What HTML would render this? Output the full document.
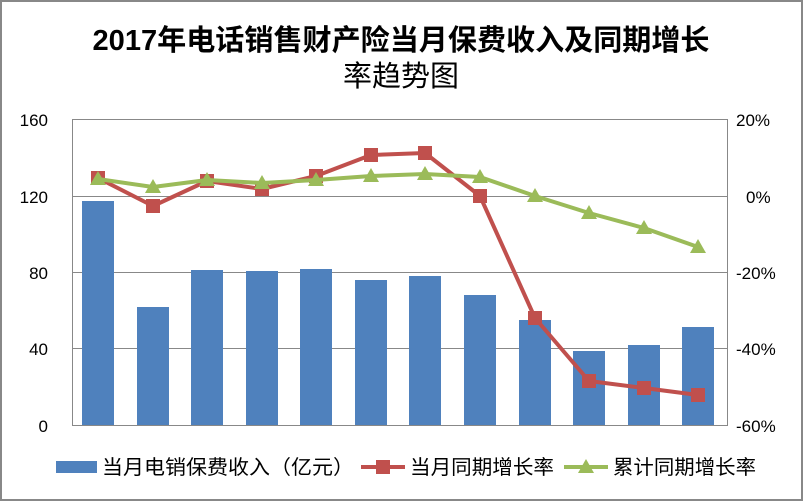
<!DOCTYPE html>
<html><head><meta charset="utf-8"><style>body{margin:0;background:#fff}svg{display:block}</style></head>
<body>
<svg width="803" height="501" xmlns="http://www.w3.org/2000/svg" font-family="Liberation Sans, Noto Sans CJK SC, sans-serif">
<rect x="1" y="1" width="801" height="499" fill="#fff" stroke="#888" stroke-width="2"/>
<text x="401" y="50" font-size="29" font-weight="bold" text-anchor="middle" textLength="617" lengthAdjust="spacingAndGlyphs">2017年电话销售财产险当月保费收入及同期增长</text>
<text x="401" y="86" font-size="29" text-anchor="middle">率趋势图</text>
<g stroke="#888" stroke-width="1">
<line x1="72" y1="119.5" x2="727" y2="119.5"/>
<line x1="72" y1="196.5" x2="727" y2="196.5"/>
<line x1="72" y1="272.5" x2="727" y2="272.5"/>
<line x1="72" y1="348.5" x2="727" y2="348.5"/>
<line x1="72" y1="425.5" x2="727" y2="425.5"/>
<line x1="72.5" y1="119" x2="72.5" y2="426"/>
<line x1="727.5" y1="119" x2="727.5" y2="426"/>
</g>
<g font-size="17" fill="#000">
<text x="48" y="126" text-anchor="end">160</text>
<text x="48" y="203" text-anchor="end">120</text>
<text x="48" y="279" text-anchor="end">80</text>
<text x="48" y="355" text-anchor="end">40</text>
<text x="48" y="432" text-anchor="end">0</text>
<text x="736" y="126">20%</text>
<text x="746" y="203">0%</text>
<text x="736" y="279">-20%</text>
<text x="736" y="355">-40%</text>
<text x="736" y="432">-60%</text>
</g>
<g fill="#4f81bd">
<rect x="82" y="201" width="32" height="224"/>
<rect x="137" y="307" width="32" height="118"/>
<rect x="191" y="270" width="32" height="155"/>
<rect x="246" y="271" width="32" height="154"/>
<rect x="300" y="269" width="32" height="156"/>
<rect x="355" y="280" width="32" height="145"/>
<rect x="409" y="276" width="32" height="149"/>
<rect x="464" y="295" width="32" height="130"/>
<rect x="519" y="320" width="32" height="105"/>
<rect x="573" y="351" width="32" height="74"/>
<rect x="628" y="345" width="32" height="80"/>
<rect x="682" y="327" width="32" height="98"/>
</g>
<polyline fill="none" stroke="#c0504d" stroke-width="4" stroke-linejoin="round" points="98,178 153,206 207,181 262,189 316,176 371,155 425,153 480,196 535,318 589,381 644,388 698,395"/>
<g fill="#c0504d">
<rect x="91" y="171" width="14" height="14"/><rect x="146" y="199" width="14" height="14"/><rect x="200" y="174" width="14" height="14"/><rect x="255" y="182" width="14" height="14"/><rect x="309" y="169" width="14" height="14"/><rect x="364" y="148" width="14" height="14"/><rect x="418" y="146" width="14" height="14"/><rect x="473" y="189" width="14" height="14"/><rect x="528" y="311" width="14" height="14"/><rect x="582" y="374" width="14" height="14"/><rect x="637" y="381" width="14" height="14"/><rect x="691" y="388" width="14" height="14"/>
</g>
<polyline fill="none" stroke="#9bbb59" stroke-width="4" stroke-linejoin="round" points="98,179 153,187 207,180 262,183 316,180 371,176 425,174 480,177 535,196 589,213 644,228 698,247"/>
<g fill="#9bbb59">
<polygon points="98,171 106,185 90,185"/><polygon points="153,179 161,193 145,193"/><polygon points="207,172 215,186 199,186"/><polygon points="262,175 270,189 254,189"/><polygon points="316,172 324,186 308,186"/><polygon points="371,168 379,182 363,182"/><polygon points="425,166 433,180 417,180"/><polygon points="480,169 488,183 472,183"/><polygon points="535,188 543,202 527,202"/><polygon points="589,205 597,219 581,219"/><polygon points="644,220 652,234 636,234"/><polygon points="698,239 706,253 690,253"/>
</g>
<rect x="56" y="461" width="41" height="12" fill="#4f81bd"/>
<text x="102" y="474" font-size="20" textLength="252" lengthAdjust="spacingAndGlyphs">当月电销保费收入（亿元）</text>
<line x1="361" y1="467" x2="405" y2="467" stroke="#c0504d" stroke-width="4"/>
<rect x="376" y="460" width="14" height="14" fill="#c0504d"/>
<text x="410" y="474" font-size="20" textLength="144" lengthAdjust="spacingAndGlyphs">当月同期增长率</text>
<line x1="564" y1="467" x2="608" y2="467" stroke="#9bbb59" stroke-width="4"/>
<polygon points="586,459 594,473 578,473" fill="#9bbb59"/>
<text x="613" y="474" font-size="20" textLength="143" lengthAdjust="spacingAndGlyphs">累计同期增长率</text>
</svg>
</body></html>
